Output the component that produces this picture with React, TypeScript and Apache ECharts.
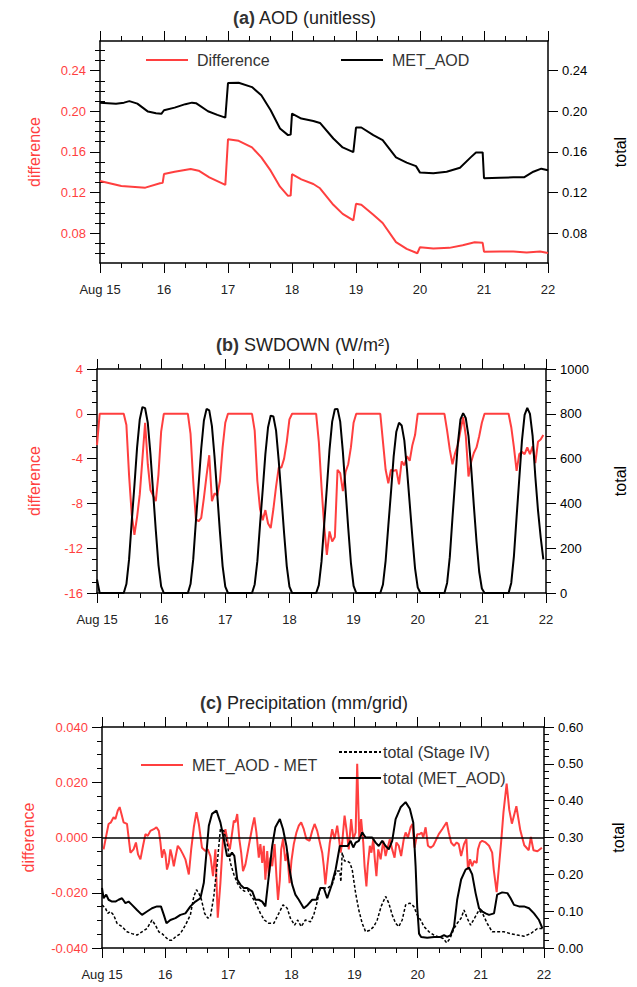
import React, { useEffect, useRef } from 'react';
import * as echarts from 'echarts';

const RED = '#ff3f3f';
const BLACK = '#000000';
const TEXT = '#222222';
const FONT = '"Liberation Sans", Arial, Helvetica, sans-serif';

const dayLabels = ['Aug 15', '16', '17', '18', '19', '20', '21', '22'];

// ---------- (a) AOD ----------
const aodTicks = [0.08, 0.12, 0.16, 0.2, 0.24];
const aodMinorTicks = [0.06, 0.07, 0.09, 0.1, 0.11, 0.13, 0.14, 0.15, 0.17, 0.18, 0.19, 0.21, 0.22, 0.23, 0.25, 0.26];
const aodDiff: [number, number][] = [
  [0, 0.1314], [8, 0.1265], [17, 0.1248], [22.5, 0.1291], [23.5, 0.1295], [24, 0.1382], [28, 0.1405], [34, 0.1432],
  [37, 0.1415], [41, 0.135], [47, 0.1275], [48, 0.1725], [52, 0.1709], [57, 0.1644], [60.5, 0.1546], [64, 0.1415],
  [67.5, 0.1258], [70.5, 0.1167], [71.5, 0.117], [72, 0.138], [75.5, 0.133], [80, 0.1284], [82.5, 0.1242], [87.5, 0.1079],
  [91, 0.099], [95, 0.0925], [96, 0.1089], [98, 0.1079], [102.5, 0.0981], [106, 0.09], [111, 0.0711], [115, 0.0645],
  [119, 0.0602], [120, 0.0662], [125, 0.0648], [131, 0.0655], [136, 0.068], [140.5, 0.0711], [143.5, 0.0705], [144, 0.0617],
  [150, 0.062], [155, 0.062], [160, 0.061], [165, 0.062], [168, 0.0605],
];
const aodTotal: [number, number][] = [
  [0, 0.2085], [3, 0.208], [6, 0.2075], [9, 0.2085], [11, 0.21], [14, 0.2075], [18, 0.1997], [21, 0.198], [23, 0.1975],
  [24, 0.201], [28, 0.2036], [32, 0.207], [34.5, 0.2085], [36, 0.208], [40.5, 0.2], [44, 0.1965], [47, 0.1938], [48, 0.2278],
  [52, 0.2281], [57, 0.2238], [60.5, 0.2157], [64, 0.201], [67.5, 0.183], [70.5, 0.1765], [71.5, 0.177], [72, 0.1977],
  [75.5, 0.1928], [80, 0.1905], [82.5, 0.1885], [87.5, 0.1732], [91, 0.1644], [95, 0.1598], [96, 0.184], [98, 0.184],
  [102.5, 0.1765], [106, 0.1716], [111, 0.1546], [115, 0.1494], [118.5, 0.146], [120, 0.1396], [125, 0.139], [130, 0.1405],
  [135, 0.1444], [139, 0.1546], [141, 0.1595], [143.5, 0.1595], [144, 0.134], [150, 0.1346], [155, 0.135], [159, 0.135],
  [162.5, 0.1405], [165.5, 0.1435], [168, 0.142],
];

// ---------- (b) SWDOWN (hourly, index = hour since Aug 15 00) ----------
const swdownDiff = [
  -2.8, 0, 0, 0, 0, 0, 0, 0, 0, 0, 0, -1, -5.5, -9, -10.8, -9.2, -7.2, -4, -0.8, -4.5, -6.8, -7.3, -7.8, -5.4,
  -1.6, 0, 0, 0, 0, 0, 0, 0, 0, 0, 0, -1.8, -6, -9.4, -9.6, -9.3, -7.5, -5.5, -3.7, -7.8, -7.1, -7.3, -6, -3,
  -0.8, 0, 0, 0, 0, 0, 0, 0, 0, 0, 0, -1.5, -6, -8.5, -9.5, -8.6, -9.8, -10.2, -8.5, -6.5, -4.8, -4.8, -4, -2.5,
  -0.5, 0, 0, 0, 0, 0, 0, 0, 0, 0, 0, -2.5, -6.5, -10, -12.6, -10.5, -11.4, -11, -5, -5.3, -6.9, -5.2, -4.5, -3,
  -0.8, 0, 0, 0, 0, 0, 0, 0, 0, 0, 0, -2.5, -5, -6.2, -5, -5.1, -5, -6.3, -4.25, -4.6, -3.8, -4.2, -2.8, -1.9,
  0, 0, 0, 0, 0, 0, 0, 0, 0, 0, 0, -1.5, -3.2, -4.5, -3.5, -2.8, -1.5, -0.3, -2, -5.6, -4.3, -3.5, -3, -2,
  -0.8, 0, 0, 0, 0, 0, 0, 0, 0, 0, 0, -1.2, -3, -5.1, -3.6, -3.4, -3.6, -3, -3.6, -2.9, -4.4, -2.5, -2.3, -1.9,
];
const swdownTotal = [
  60, 0, 0, 0, 0, 0, 0, 0, 0, 0, 0, 40, 150, 320, 480, 650, 775, 830, 825, 760, 620, 450, 280, 126,
  30, 0, 0, 0, 0, 0, 0, 0, 0, 0, 0, 40, 150, 320, 480, 645, 770, 822, 815, 745, 605, 440, 272, 120,
  28, 0, 0, 0, 0, 0, 0, 0, 0, 0, 0, 38, 142, 305, 460, 620, 740, 792, 788, 725, 590, 430, 268, 120,
  28, 0, 0, 0, 0, 0, 0, 0, 0, 0, 0, 35, 140, 305, 470, 640, 765, 820, 822, 765, 630, 460, 290, 135,
  32, 0, 0, 0, 0, 0, 0, 0, 0, 0, 0, 38, 145, 300, 450, 610, 720, 760, 748, 680, 550, 400, 250, 110,
  25, 0, 0, 0, 0, 0, 0, 0, 0, 0, 0, 45, 160, 335, 500, 665, 775, 803, 780, 700, 560, 390, 230, 95,
  20, 0, 0, 0, 0, 0, 0, 0, 0, 0, 0, 45, 165, 340, 510, 680, 795, 826, 800, 700, 520, 370, 250, 150,
];

// ---------- (c) Precipitation ----------
const precipDiff: [number, number][] = [
  [0.6, -0.0043], [1.6, 0.0006], [2.5, 0.0049], [3.4, 0.0055], [4.4, 0.0073], [5.1, 0.0067], [6, 0.0098], [6.7, 0.011],
  [7.4, 0.0085], [8.2, 0.0055], [9.5, 0.0049], [10.8, -0.0055], [12, -0.0043], [12.9, -0.0018], [13.7, -0.0061],
  [14.6, -0.0079], [15.6, -0.003], [16.5, 0.0012], [17.4, 0.0006], [18.4, 0.0024], [19.7, 0.003], [20.7, 0.0037],
  [21.6, 0.0024], [22.2, -0.0018], [22.8, -0.0073], [23.5, -0.0043], [24.1, -0.0061], [24.7, -0.0116], [25.4, -0.0092],
  [26, -0.0043], [26.6, -0.0067], [27.3, -0.0104], [27.9, -0.0073], [28.8, -0.003], [29.8, -0.0043], [30.8, -0.0061],
  [31.7, -0.0079], [33, -0.0134], [33.9, -0.0043], [34.9, 0.0037], [35.9, 0.0092], [36.8, 0.0049], [38, -0.0037],
  [39.3, -0.0049], [40.2, -0.0043], [41.2, -0.0067], [42.2, -0.014], [43.1, -0.0043], [44, -0.029], [45, -0.0165],
  [46, -0.0006], [46.9, 0.003], [47.8, -0.0018], [48.6, -0.0043], [49.4, 0.0012], [50.1, 0.0061], [50.7, 0.0055],
  [51.4, 0.0085], [52.2, -0.0006], [52.9, -0.0055], [53.6, -0.0122], [54.5, -0.0098], [55.8, -0.003], [57.1, 0.0037],
  [57.9, 0.0073], [58.7, 0.0018], [59.6, -0.0073], [60.2, -0.0024], [60.9, -0.0092], [61.5, -0.003], [62.1, -0.0153],
  [62.8, -0.0049], [63.4, -0.014], [64, -0.0073], [64.7, -0.0104], [65.6, -0.0024], [66.3, -0.014], [66.9, -0.0226],
  [67.6, -0.0153], [68.1, -0.0043], [68.8, -0.0006], [69.7, -0.0085], [70.4, -0.0055], [71.3, -0.0165], [72, -0.0085],
  [72.9, -0.0024], [73.9, 0.0018], [74.8, 0.0043], [75.7, 0.0055], [76.7, 0.003], [77.7, -0.0006], [78.9, -0.0012],
  [79.9, 0.0024], [80.8, 0.0049], [81.8, 0.0024], [82.8, -0.0018], [83.7, -0.0055], [84.3, -0.0104], [84.9, -0.017],
  [85.6, -0.0104], [86.6, -0.0018], [87.5, 0.003], [88.4, -0.0006], [89.4, 0.0043], [90.1, -0.0006], [90.7, -0.0055],
  [91.3, -0.0018], [92.2, 0.0079], [92.9, 0.003], [93.8, -0.0043], [94.7, 0.0067], [95.5, -0.0006], [96.4, 0.0018],
  [97, 0.0267], [97.8, -0.0006], [98.5, 0.0067], [99.3, -0.0018], [99.8, -0.0104], [100.5, -0.0177], [101, -0.0104],
  [101.8, -0.003], [102.4, -0.0055], [103.1, -0.0006], [103.7, -0.0079], [104.3, -0.014], [105, -0.0043], [105.9, -0.0079],
  [106.9, -0.0012], [107.8, -0.0067], [108.4, -0.0043], [109.4, -0.0006], [110.3, -0.0043], [111.2, -0.0073],
  [111.9, -0.0018], [112.8, -0.003], [113.7, -0.0067], [114.7, -0.0006], [115.4, 0.0018], [116.3, 0], [117.3, 0.0037],
  [118, 0.0049], [118.8, -0.0037], [119.8, 0.0012], [120.7, 0.0012], [121.5, 0.0018], [122.1, 0], [123, 0.0037],
  [123.9, -0.003], [124.9, -0.0037], [125.9, -0.003], [126.8, -0.0012], [128, 0.0012], [129.3, 0.003], [131, 0.0055],
  [131.8, 0.0018], [132.7, -0.0018], [133.8, -0.003], [134.8, -0.0018], [135.6, -0.0024], [136.5, -0.0067],
  [137.6, -0.0024], [138.5, -0.0006], [139.1, -0.0116], [139.9, -0.0079], [140.7, -0.0104], [141.4, -0.0085],
  [142.4, -0.0092], [142.9, -0.0043], [143.7, -0.0018], [144.5, -0.0012], [145.8, -0.0018], [147.1, -0.003],
  [148.3, -0.0055], [148.9, -0.0116], [150, -0.0198], [150.9, -0.0104], [151.8, -0.0006], [152.6, 0.0092],
  [153.8, 0.0195], [154.8, 0.01], [155.8, 0.005], [157.5, 0.0113], [159, 0.0026], [160.5, -0.0028], [162.2, -0.0046],
  [163, 0.0002], [164, -0.0046], [165.5, -0.005], [167.2, -0.0037],
];
const precipStageIV: [number, number][] = [
  [0, 0.117], [1.3, 0.108], [2.2, 0.094], [3.2, 0.099], [4.4, 0.09], [5.7, 0.067], [7.6, 0.058], [9.5, 0.044],
  [11.4, 0.039], [13.3, 0.035], [15.2, 0.044], [17.1, 0.053], [19, 0.076], [20.3, 0.062], [21.6, 0.044], [22.8, 0.039],
  [24.1, 0.03], [25.4, 0.021], [26.6, 0.021], [27.9, 0.03], [29.8, 0.039], [31.7, 0.062], [33.6, 0.09], [34.9, 0.14],
  [35.9, 0.158], [36.8, 0.149], [37.8, 0.131], [39, 0.094], [40.2, 0.081], [41.2, 0.085], [42.5, 0.14], [43.7, 0.222],
  [45, 0.323], [46.3, 0.318], [47.5, 0.286], [48.8, 0.231], [50.1, 0.2], [51.4, 0.177], [52.6, 0.163], [54.1, 0.154],
  [55.4, 0.158], [56.4, 0.145], [57.7, 0.131], [59, 0.113], [60.2, 0.094], [61.7, 0.076], [63.4, 0.067], [65.3, 0.067],
  [67.2, 0.094], [68.8, 0.117], [70.4, 0.108], [71.6, 0.081], [73.2, 0.062], [74.4, 0.076], [75.7, 0.058], [77.3, 0.076],
  [79.2, 0.071], [80.5, 0.09], [81.5, 0.117], [83, 0.163], [84.3, 0.163], [85.8, 0.163], [87.5, 0.172], [89.1, 0.209],
  [90.4, 0.209], [90.8, 0.18], [91.3, 0.259], [92.2, 0.236], [93.2, 0.236], [94.2, 0.231], [95.1, 0.213], [96.4, 0.149],
  [97.6, 0.103], [98.9, 0.067], [100.2, 0.044], [101.8, 0.048], [103.3, 0.058], [104.6, 0.076], [106.1, 0.113],
  [107.8, 0.14], [109, 0.122], [110.3, 0.09], [111.6, 0.067], [112.8, 0.058], [114.1, 0.076], [115.4, 0.117],
  [117, 0.122], [118.5, 0.113], [119.8, 0.09], [121.1, 0.076], [122.4, 0.058], [124.3, 0.044], [126.2, 0.035],
  [128.1, 0.03], [129.7, 0.026], [131, 0.014], [132.3, 0.026], [133.8, 0.053], [135, 0.067], [136.5, 0.081],
  [137.6, 0.103], [138.8, 0.081], [140.1, 0.062], [141.6, 0.081], [143.3, 0.103], [144.9, 0.09], [146.4, 0.067],
  [148.3, 0.044], [150.2, 0.044], [152.8, 0.044], [155.3, 0.039], [157.9, 0.035], [160.4, 0.032], [162.9, 0.039],
  [165.5, 0.053], [167.4, 0.053],
];
const precipMetAod: [number, number][] = [
  [0, 0.163], [0.6, 0.135], [1.6, 0.145], [2.5, 0.131], [3.8, 0.126], [5.1, 0.126], [6.3, 0.131], [7.6, 0.135],
  [8.9, 0.122], [10.1, 0.126], [11.4, 0.117], [13.3, 0.103], [15.2, 0.09], [17.1, 0.099], [19, 0.108], [20.9, 0.113],
  [22.4, 0.113], [23.5, 0.09], [24.5, 0.067], [26, 0.076], [27.9, 0.081], [29.8, 0.09], [31.7, 0.094], [33.6, 0.113],
  [35.5, 0.126], [37.4, 0.135], [38.7, 0.177], [39.7, 0.259], [40.6, 0.332], [41.8, 0.364], [43.5, 0.373], [45, 0.341],
  [46.3, 0.296], [47.5, 0.25], [48.6, 0.25], [49.4, 0.259], [50.3, 0.25], [51.4, 0.186], [52.6, 0.172], [53.9, 0.163],
  [55.2, 0.163], [56.2, 0.158], [57.1, 0.154], [58.3, 0.131], [59.6, 0.131], [60.9, 0.126], [62.1, 0.113], [63.4, 0.195],
  [64.7, 0.277], [65.9, 0.328], [67.6, 0.35], [68.8, 0.323], [70.1, 0.277], [71.3, 0.213], [72.3, 0.172], [73.5, 0.145],
  [74.8, 0.131], [76.7, 0.108], [78.2, 0.117], [79.9, 0.131], [81.5, 0.131], [83, 0.163], [84.3, 0.163], [85.6, 0.135],
  [87.1, 0.167], [88.8, 0.213], [90.4, 0.277], [91.9, 0.277], [93.4, 0.277], [94.5, 0.291], [95.5, 0.273], [96.4, 0.286],
  [97.6, 0.291], [98.9, 0.314], [100.2, 0.3], [101.4, 0.3], [102.7, 0.3], [104, 0.286], [105.2, 0.277], [106.5, 0.291],
  [107.8, 0.277], [109, 0.268], [110.3, 0.291], [111.6, 0.35], [113.5, 0.382], [115.4, 0.396], [117, 0.378],
  [118.3, 0.341], [119.2, 0.222], [119.8, 0.113], [120.5, 0.039], [121.3, 0.03], [123.6, 0.028], [126.2, 0.03],
  [128.7, 0.03], [130, 0.035], [131.2, 0.03], [132.5, 0.035], [133.8, 0.058], [135, 0.131], [136.5, 0.186],
  [138.2, 0.213], [139.5, 0.218], [140.7, 0.2], [142, 0.149], [143.3, 0.108], [144.6, 0.099], [145.8, 0.094],
  [147.1, 0.09], [149, 0.094], [150.2, 0.145], [152.1, 0.151], [154.1, 0.149], [155.3, 0.135], [156.6, 0.117],
  [158.5, 0.113], [160.4, 0.113], [162.3, 0.108], [164.2, 0.094], [166.1, 0.076], [167.4, 0.053],
];

const grids = [
  { left: 100, top: 41, width: 448, height: 222 },
  { left: 97, top: 369, width: 449, height: 224 },
  { left: 102, top: 727, width: 442, height: 221 },
];

const tickLine = { color: BLACK, width: 1 };
const frameLine = { show: true, onZero: false, lineStyle: { color: BLACK, width: 1.5 } };

function xAxes(gridIndex: number) {
  const base = {
    type: 'value',
    gridIndex,
    min: 0,
    max: 168,
    interval: 24,
    axisLine: frameLine,
    axisTick: { show: true, length: 10, lineStyle: tickLine },
    minorTick: { show: true, splitNumber: 3, length: 5, lineStyle: tickLine },
    splitLine: { show: false },
    minorSplitLine: { show: false },
  };
  return [
    {
      ...base,
      position: 'bottom',
      axisLabel: {
        color: TEXT,
        fontSize: 13,
        fontFamily: FONT,
        margin: 20,
        formatter: (v: number) => dayLabels[Math.round(v / 24)] ?? '',
      },
    },
    { ...base, position: 'top', axisLabel: { show: false } },
  ];
}

function nameStyle(color: string) {
  return { color, fontSize: 16, fontFamily: FONT };
}

function legendItem(name: string, left: number, top: number, gap = 4) {
  return {
    show: true,
    data: [name],
    left,
    top,
    padding: 0,
    itemWidth: 42,
    itemHeight: 14,
    selectedMode: false,
    itemStyle: { opacity: 0 },
    textStyle: { fontSize: 16, color: '#333', fontFamily: FONT, padding: [0, 0, 0, gap] },
  };
}

function titleItem(label: string, rest: string, left: number, top: number) {
  return {
    text: `{b|${label}} ${rest}`,
    left,
    top,
    padding: 0,
    textStyle: {
      fontSize: 18,
      color: TEXT,
      fontWeight: 'normal',
      fontFamily: FONT,
      rich: { b: { fontSize: 18, fontWeight: 'bold', color: '#333', fontFamily: FONT } },
    },
  };
}

const A_MIN = 0.0506;
const A_MAX = 0.2692;

export default function App() {
  const ref = useRef<HTMLDivElement>(null);
  useEffect(() => {
    if (!ref.current) return;
    const chart = echarts.init(ref.current, undefined, { renderer: 'svg' });
    const fix2 = (v: number) => v.toFixed(2);
    const aodMajor = (position: string, color: string, name: string, nameGap: number) => ({
      type: 'value',
      gridIndex: 0,
      position,
      min: A_MIN,
      max: A_MAX,
      axisLine: frameLine,
      axisTick: { show: true, length: 10, lineStyle: tickLine, customValues: aodTicks },
      axisLabel: { customValues: aodTicks, formatter: fix2, color, fontSize: 13, fontFamily: FONT, margin: 14 },
      splitLine: { show: false },
      name,
      nameLocation: 'middle',
      nameRotate: 90,
      nameGap,
      nameTextStyle: nameStyle(color),
    });
    const aodMinor = (position: string) => ({
      type: 'value',
      gridIndex: 0,
      position,
      min: A_MIN,
      max: A_MAX,
      axisLine: { show: false },
      axisTick: { show: true, length: 5, lineStyle: tickLine, customValues: aodMinorTicks },
      axisLabel: { show: false },
      splitLine: { show: false },
    });
    const regularY = (
      gridIndex: number,
      position: string,
      min: number,
      max: number,
      interval: number,
      minorSplit: number,
      color: string,
      formatter: (v: number) => string,
      name: string,
      nameGap: number,
    ) => ({
      type: 'value',
      gridIndex,
      position,
      min,
      max,
      interval,
      axisLine: frameLine,
      axisTick: { show: true, length: 10, lineStyle: tickLine },
      minorTick: { show: true, splitNumber: minorSplit, length: 5, lineStyle: tickLine },
      axisLabel: { formatter, color, fontSize: 13, fontFamily: FONT, margin: 14 },
      splitLine: { show: false },
      minorSplitLine: { show: false },
      name,
      nameLocation: 'middle',
      nameRotate: 90,
      nameGap,
      nameTextStyle: nameStyle(color),
    });

    const line = (name: string, xAxisIndex: number, yAxisIndex: number, data: any[], color: string, width = 2, type: any = 'solid') => ({
      type: 'line',
      name,
      xAxisIndex,
      yAxisIndex,
      data,
      symbol: 'none',
      showSymbol: false,
      smooth: false,
      lineStyle: { color, width, type },
      itemStyle: { color },
      emphasis: { disabled: true },
    });

    const option: any = {
      animation: false,
      backgroundColor: '#ffffff',
      textStyle: { fontFamily: FONT },
      title: [
        titleItem('(a)', 'AOD (unitless)', 233, 9),
        titleItem('(b)', 'SWDOWN (W/m²)', 216, 336),
        titleItem('(c)', 'Precipitation (mm/grid)', 200, 694),
      ],
      legend: [
        legendItem('Difference', 145, 52),
        legendItem('MET_AOD', 340, 52),
        legendItem('MET_AOD - MET', 140, 757),
        legendItem('total (Stage IV)', 338, 744, -3),
        legendItem('total (MET_AOD)', 338, 770, -3),
      ],
      grid: grids,
      xAxis: [...xAxes(0), ...xAxes(1), ...xAxes(2)],
      yAxis: [
        aodMajor('left', RED, 'difference', 58),
        aodMinor('left'),
        aodMajor('right', BLACK, 'total', 64),
        aodMinor('right'),
        regularY(1, 'left', -16, 4, 4, 4, RED, (v) => String(v), 'difference', 55),
        regularY(1, 'right', 0, 1000, 200, 4, BLACK, (v) => String(v), 'total', 66),
        regularY(2, 'left', -0.04, 0.04, 0.02, 4, RED, (v) => (Math.abs(v) < 1e-9 ? '0.000' : v.toFixed(3)), 'difference', 66),
        regularY(2, 'right', 0, 0.6, 0.1, 5, BLACK, (v) => (Math.abs(v) < 1e-9 ? '0.00' : v.toFixed(2)), 'total', 66),
      ],
      series: [
        line('Difference', 0, 0, aodDiff, RED),
        line('MET_AOD', 0, 2, aodTotal, BLACK),
        line('Difference', 2, 4, swdownDiff.map((v, i) => [i, v]), RED),
        line('MET_AOD', 2, 5, swdownTotal.map((v, i) => [i, v]), BLACK),
        line('MET_AOD - MET', 4, 6, precipDiff, RED),
        line('total (Stage IV)', 4, 7, precipStageIV, BLACK, 1.5, [3, 2]),
        {
          ...line('total (MET_AOD)', 4, 7, precipMetAod, BLACK, 2),
          markLine: {
            silent: true,
            symbol: ['none', 'none'],
            label: { show: false },
            lineStyle: { color: BLACK, width: 1.5, type: 'solid' },
            data: [{ yAxis: 0.3 }],
          },
        },
      ],
    };
    chart.setOption(option);
    return () => chart.dispose();
  }, []);
  return <div ref={ref} style={{ position: 'absolute', left: 0, top: 0, width: 637, height: 987 }} />;
}
